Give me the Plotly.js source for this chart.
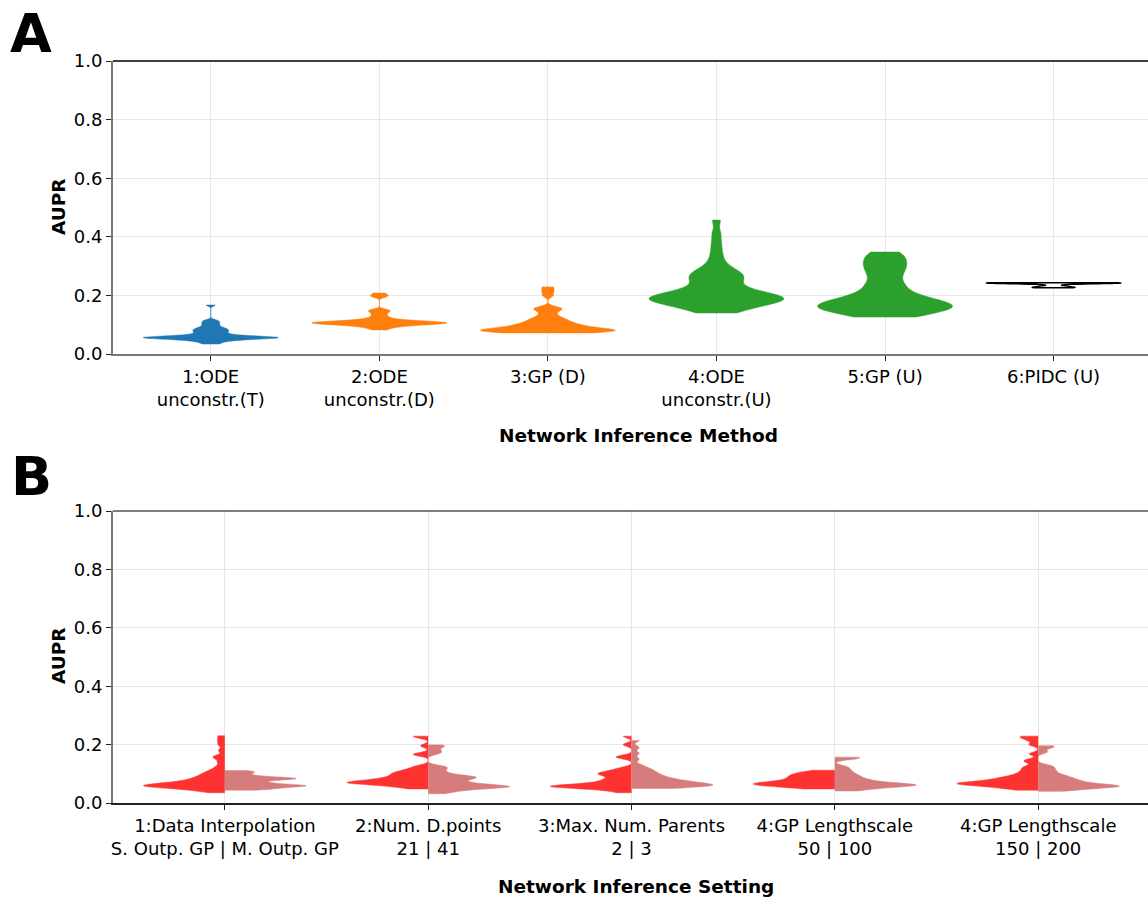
<!DOCTYPE html>
<html>
<head>
<meta charset="utf-8">
<script src="https://cdn.plot.ly/plotly-3.0.1.min.js"></script>
<style>html,body{margin:0;padding:0;background:#fff;}#chart{width:1148px;height:899px;}</style>
</head>
<body>
<div id="chart"></div>
<script>
// ---- Panel A data ----
const methods = ['1:ODE<br>unconstr.(T)', '2:ODE<br>unconstr.(D)', '3:GP (D)', '4:ODE<br>unconstr.(U)', '5:GP (U)', '6:PIDC (U)'];
const aupr_ode_T = [0.034,0.038,0.042,0.045,0.047,0.048,0.05,0.051,0.052,0.053,0.054,0.054,0.055,0.055,0.055,0.056,0.056,0.057,0.057,0.058,0.058,0.059,0.06,0.061,0.062,0.063,0.065,0.067,0.07,0.072,0.075,0.078,0.08,0.082,0.085,0.088,0.09,0.095,0.1,0.105,0.11,0.115,0.167];
const aupr_ode_D = [0.082,0.088,0.092,0.095,0.097,0.099,0.1,0.101,0.102,0.103,0.104,0.105,0.105,0.106,0.106,0.107,0.107,0.108,0.108,0.109,0.11,0.111,0.112,0.113,0.115,0.118,0.122,0.128,0.135,0.142,0.148,0.15,0.196,0.2,0.208];
const aupr_gp_D = [0.072,0.073,0.074,0.075,0.076,0.077,0.078,0.079,0.08,0.081,0.082,0.083,0.084,0.085,0.087,0.089,0.091,0.093,0.095,0.098,0.1,0.103,0.106,0.11,0.114,0.118,0.123,0.13,0.14,0.15,0.155,0.158,0.2,0.215,0.229];
const aupr_ode_U = [0.14,0.145,0.15,0.155,0.16,0.165,0.17,0.173,0.176,0.179,0.181,0.183,0.185,0.187,0.188,0.189,0.19,0.192,0.194,0.196,0.198,0.2,0.203,0.206,0.21,0.215,0.22,0.225,0.23,0.24,0.25,0.255,0.26,0.265,0.27,0.275,0.28,0.29,0.3,0.32,0.345,0.375,0.41,0.457];
const aupr_gp_U = [0.126,0.13,0.135,0.14,0.145,0.148,0.151,0.154,0.157,0.16,0.162,0.164,0.166,0.168,0.17,0.173,0.176,0.18,0.184,0.188,0.193,0.2,0.21,0.22,0.23,0.24,0.25,0.27,0.28,0.29,0.3,0.31,0.32,0.33,0.34,0.348];
const aupr_pidc_U = [0.226,0.228,0.232,0.238,0.241,0.242,0.242,0.243,0.243,0.243];

// ---- Panel B data ----
const settings = ['1:Data Interpolation<br>S. Outp. GP | M. Outp. GP', '2:Num. D.points<br>21 | 41', '3:Max. Num. Parents<br>2 | 3', '4:GP Lengthscale<br>50 | 100', '4:GP Lengthscale<br>150 | 200'];
const setting1_left  = [0.035,0.04,0.044,0.047,0.05,0.052,0.054,0.055,0.056,0.057,0.058,0.059,0.06,0.061,0.062,0.063,0.064,0.066,0.068,0.07,0.072,0.074,0.077,0.08,0.083,0.086,0.09,0.094,0.098,0.103,0.108,0.115,0.125,0.14,0.155,0.16,0.18,0.2,0.215,0.23];
const setting1_right = [0.044,0.046,0.048,0.05,0.052,0.054,0.056,0.057,0.058,0.059,0.06,0.061,0.062,0.064,0.066,0.068,0.07,0.073,0.076,0.078,0.08,0.082,0.083,0.084,0.085,0.086,0.088,0.09,0.093,0.097,0.101,0.105,0.108,0.111];
const setting2_left  = [0.048,0.052,0.056,0.059,0.062,0.064,0.066,0.067,0.068,0.069,0.07,0.071,0.072,0.073,0.075,0.077,0.079,0.081,0.083,0.085,0.088,0.091,0.094,0.097,0.1,0.103,0.106,0.11,0.114,0.12,0.127,0.165,0.168,0.196,0.226,0.229];
const setting2_right = [0.032,0.038,0.043,0.047,0.05,0.052,0.054,0.055,0.056,0.057,0.058,0.06,0.062,0.065,0.068,0.071,0.075,0.079,0.083,0.086,0.088,0.09,0.093,0.097,0.104,0.112,0.12,0.126,0.17,0.18,0.192,0.199];
const setting3_left  = [0.035,0.042,0.047,0.05,0.052,0.054,0.055,0.056,0.057,0.058,0.059,0.06,0.062,0.064,0.067,0.07,0.074,0.078,0.082,0.087,0.093,0.097,0.1,0.103,0.107,0.112,0.12,0.155,0.16,0.2,0.229];
const setting3_right = [0.05,0.052,0.054,0.056,0.058,0.059,0.06,0.061,0.062,0.063,0.065,0.067,0.069,0.071,0.073,0.075,0.077,0.08,0.083,0.086,0.09,0.094,0.098,0.103,0.108,0.114,0.12,0.13,0.15,0.17,0.19,0.214];
const setting4_left  = [0.048,0.051,0.054,0.057,0.059,0.061,0.063,0.064,0.065,0.066,0.067,0.069,0.071,0.073,0.076,0.079,0.082,0.085,0.088,0.091,0.094,0.097,0.1,0.104,0.108,0.112];
const setting4_right = [0.041,0.045,0.049,0.052,0.055,0.057,0.059,0.06,0.061,0.062,0.063,0.064,0.066,0.068,0.071,0.074,0.077,0.081,0.085,0.09,0.095,0.101,0.108,0.116,0.125,0.152,0.155,0.157];
const setting5_left  = [0.044,0.048,0.052,0.055,0.058,0.06,0.062,0.064,0.065,0.066,0.067,0.068,0.07,0.072,0.074,0.076,0.079,0.082,0.085,0.088,0.092,0.097,0.103,0.11,0.118,0.126,0.14,0.148,0.168,0.2,0.215,0.225,0.229];
const setting5_right = [0.04,0.044,0.047,0.05,0.052,0.054,0.056,0.057,0.058,0.059,0.06,0.062,0.064,0.066,0.069,0.072,0.075,0.078,0.081,0.085,0.089,0.093,0.098,0.105,0.112,0.12,0.128,0.175,0.19,0.196];

const yTicks = [0.0, 0.2, 0.4, 0.6, 0.8, 1.0];

// ---- styles ----
const methodData = [aupr_ode_T, aupr_ode_D, aupr_gp_D, aupr_ode_U, aupr_gp_U, aupr_pidc_U];
const methodFill = ['#1f77b4', '#ff7f0e', '#ff7f0e', '#2ca02c', '#2ca02c', '#ffffff'];
const methodLine = ['#1f77b4', '#ff7f0e', '#ff7f0e', '#2ca02c', '#2ca02c', '#000000'];
const methodBw   = [0.004, 0.005, 0.007, 0.018, 0.02, 0.002];
const leftData  = [setting1_left, setting2_left, setting3_left, setting4_left, setting5_left];
const rightData = [setting1_right, setting2_right, setting3_right, setting4_right, setting5_right];
const leftBw  = [0.007, 0.006, 0.006, 0.007, 0.006];
const rightBw = [0.004, 0.006, 0.007, 0.006, 0.006];
const leftColor = '#ff3232', rightColor = '#d67c7c';

const traces = [];
methods.forEach((m, i) => {
  traces.push({
    type: 'violin', xaxis: 'x', yaxis: 'y',
    x: methodData[i].map(() => m), y: methodData[i],
    width: 0.8, spanmode: 'hard', bandwidth: methodBw[i], scalemode: 'width',
    fillcolor: methodFill[i], line: {color: methodLine[i], width: i === 5 ? 1.5 : 0.5},
    points: false, box: {visible: false}, meanline: {visible: false},
    hoverinfo: 'skip', showlegend: false
  });
});
settings.forEach((s, i) => {
  traces.push({
    type: 'violin', xaxis: 'x2', yaxis: 'y2', side: 'negative',
    x: leftData[i].map(() => s), y: leftData[i],
    width: 0.8, spanmode: 'hard', bandwidth: leftBw[i], scalemode: 'width',
    fillcolor: leftColor, line: {color: leftColor, width: 0.5},
    points: false, box: {visible: false}, meanline: {visible: false},
    hoverinfo: 'skip', showlegend: false
  });
  traces.push({
    type: 'violin', xaxis: 'x2', yaxis: 'y2', side: 'positive',
    x: rightData[i].map(() => s), y: rightData[i],
    width: 0.8, spanmode: 'hard', bandwidth: rightBw[i], scalemode: 'width',
    fillcolor: rightColor, line: {color: rightColor, width: 0.5},
    points: false, box: {visible: false}, meanline: {visible: false},
    hoverinfo: 'skip', showlegend: false
  });
});

const W = 1148, H = 899;
const px = v => v / W, py = v => 1 - v / H;
const font = 'DejaVu Sans, sans-serif';
const tickFont = {family: font, size: 18, color: '#000'};

const xCommon = {
  type: 'category', showgrid: true, gridcolor: '#e6e6e6', gridwidth: 1,
  showline: true, linecolor: '#777', linewidth: 2,
  ticks: 'outside', ticklen: 5, tickcolor: '#222', tickwidth: 1,
  tickfont: tickFont, zeroline: false, domain: [px(113), 1]
};
const yCommon = {
  range: [0, 1], tickvals: yTicks, tickformat: '.1f',
  showgrid: true, gridcolor: '#e6e6e6', gridwidth: 1,
  showline: true, linecolor: '#777', linewidth: 2,
  ticks: 'outside', ticklen: 5, tickcolor: '#222', tickwidth: 1,
  tickfont: tickFont, zeroline: false
};

const layout = {
  width: W, height: H,
  margin: {l: 0, r: 0, t: 0, b: 0},
  paper_bgcolor: '#fff', plot_bgcolor: '#fff',
  violinmode: 'overlay', violingap: 0, violingroupgap: 0,
  showlegend: false,
  xaxis: Object.assign({}, xCommon, {anchor: 'y', range: [-0.58, 5.56]}),
  yaxis: Object.assign({}, yCommon, {anchor: 'x', domain: [py(354), py(61)]}),
  xaxis2: Object.assign({}, xCommon, {anchor: 'y2', range: [-0.55, 4.54], linecolor: '#222'}),
  yaxis2: Object.assign({}, yCommon, {anchor: 'x2', domain: [py(803), py(511)]}),
  shapes: [
    {type: 'line', xref: 'x domain', yref: 'y domain', x0: 0, x1: 1, y0: 1, y1: 1, line: {color: '#000', width: 1.5}},
    {type: 'line', xref: 'x2 domain', yref: 'y2 domain', x0: 0, x1: 1, y0: 1, y1: 1, line: {color: '#555', width: 1.5}}
  ],
  annotations: [
    {text: '<b>A</b>', x: px(31), y: 1, xref: 'paper', yref: 'paper', showarrow: false, xanchor: 'center', yanchor: 'top', font: {family: font, size: 54, color: '#000'}},
    {text: '<b>B</b>', x: px(31), y: py(477), xref: 'paper', yref: 'paper', showarrow: false, xanchor: 'center', yanchor: 'middle', font: {family: font, size: 54, color: '#000'}},
    {text: '<b>AUPR</b>', x: px(58), y: py(207), xref: 'paper', yref: 'paper', showarrow: false, textangle: -90, xanchor: 'center', yanchor: 'middle', font: {family: font, size: 18.5, color: '#000'}},
    {text: '<b>AUPR</b>', x: px(58), y: py(656), xref: 'paper', yref: 'paper', showarrow: false, textangle: -90, xanchor: 'center', yanchor: 'middle', font: {family: font, size: 18.5, color: '#000'}},
    {text: '<b>Network Inference Method</b>', x: px(638), y: py(436), xref: 'paper', yref: 'paper', showarrow: false, xanchor: 'center', yanchor: 'middle', font: {family: font, size: 18.5, color: '#000'}},
    {text: '<b>Network Inference Setting</b>', x: px(636), y: py(886), xref: 'paper', yref: 'paper', showarrow: false, xanchor: 'center', yanchor: 'middle', font: {family: font, size: 18.5, color: '#000'}}
  ]
};

Plotly.newPlot('chart', traces, layout, {staticPlot: true, displayModeBar: false});
</script>
</body>
</html>
